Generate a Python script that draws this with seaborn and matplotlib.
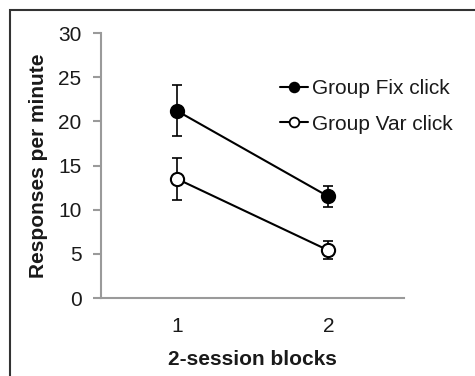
import matplotlib
matplotlib.use("Agg")
import matplotlib.pyplot as plt
import seaborn as sns
import pandas as pd
from matplotlib.patches import Rectangle
from matplotlib.lines import Line2D

blocks = [1, 2]
groups = ["Group Fix click", "Group Var click"]
fix_mean = [21.2, 11.5]
fix_err = [2.9, 1.2]
var_mean = [13.5, 5.4]
var_err = [2.4, 1.0]
y_ticks = [0, 5, 10, 15, 20, 25, 30]
x_tick_labels = ["1", "2"]

df = pd.DataFrame({
    "block": blocks * 2,
    "rate": fix_mean + var_mean,
    "err": fix_err + var_err,
    "group": [groups[0]] * 2 + [groups[1]] * 2,
})

sns.set_style("white")
plt.rcParams['font.family'] = ['Liberation Sans', 'DejaVu Sans']
FS = 15
plt.rcParams['font.size'] = FS
TXT = "#1a1a1a"
GRAY = "#9a9a9a"

fig = plt.figure(figsize=(4.75, 3.76), dpi=100)
ax = fig.add_axes([101/475, 78/376, 303/475, 265/376])

# frame around figure (top & left visible)
fig.patches.append(Rectangle((10/475, -0.1), 1.2, 1 - 10/376 + 0.1, transform=fig.transFigure,
                             fill=False, edgecolor="#333333", linewidth=1.5, zorder=0))

face = {groups[0]: "black", groups[1]: "white"}
for g in groups:
    sub = df[df["group"] == g]
    ax.errorbar(sub["block"], sub["rate"], yerr=sub["err"], fmt="none", ecolor="black",
                elinewidth=1.2, capsize=3.5, capthick=1.2, zorder=2)
    sns.lineplot(data=sub, x="block", y="rate", ax=ax, color="black", linewidth=1.5,
                 marker="o", markersize=9.5, markerfacecolor=face[g], markeredgecolor="black",
                 markeredgewidth=1.5, legend=False, zorder=3)

handles = [Line2D([], [], color="black", lw=1.5, marker="o", markersize=7,
                  markerfacecolor=face[g], markeredgecolor="black", markeredgewidth=1.3)
           for g in groups]
leg = ax.legend(handles, groups, loc="upper left", bbox_to_anchor=(0.59, 0.826),
                frameon=False, borderaxespad=0, borderpad=0, labelspacing=0.8,
                handlelength=1.35, handletextpad=0.2, fontsize=FS)
for t in leg.get_texts():
    t.set_color(TXT)

ax.set_xlim(0.5, 2.5)
ax.set_ylim(0, 30)
ax.set_yticks(y_ticks)
ax.set_xticks([0.5, 1.5, 2.5])
ax.set_xticklabels([])
ax.set_xticks(blocks, minor=True)
ax.set_xticklabels(x_tick_labels, minor=True)
ax.tick_params(axis="x", which="minor", length=0, pad=14, labelsize=FS, labelcolor=TXT)
ax.tick_params(axis="x", which="major", length=6, width=1.5, color=GRAY, direction="out")
ax.tick_params(axis="y", length=6, width=1.5, color=GRAY, direction="out", pad=8,
               labelsize=FS, labelcolor=TXT, left=True)
for s in ["top", "right"]:
    ax.spines[s].set_visible(False)
for s in ["left", "bottom"]:
    ax.spines[s].set_color(GRAY)
    ax.spines[s].set_linewidth(1.5)

ax.set_xlabel("2-session blocks", fontweight="bold", fontsize=FS, color=TXT, labelpad=10)
ax.set_ylabel("Responses per minute", fontweight="bold", fontsize=FS, color=TXT, labelpad=7)

fig.savefig("out.png", dpi=100)
